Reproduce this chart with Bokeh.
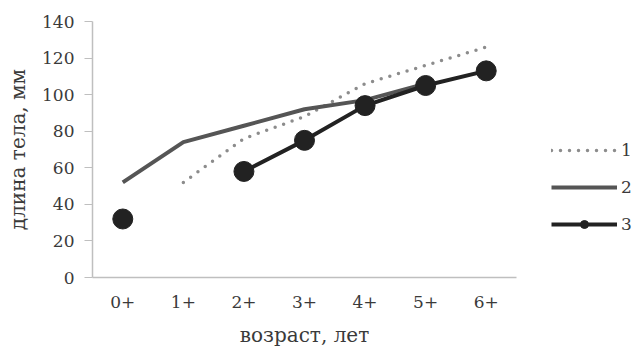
import math
from bokeh.plotting import figure
from bokeh.models import ColumnDataSource, Legend, LegendItem, FactorRange
from bokeh.embed import file_html
from bokeh.resources import INLINE

ages = ["0+", "1+", "2+", "3+", "4+", "5+", "6+"]
nan = float("nan")
series1 = [nan, 52, 76, 88, 106, 116, 126]
series2 = [52, 74, 83, 92, 97, 106, nan]
series3 = [32, nan, 58, 75, 94, 105, 113]
legend_labels = ["1", "2", "3"]

src = ColumnDataSource(dict(x=ages, s1=series1, s2=series2, s3=series3))

p = figure(frame_width=424, frame_height=256, x_range=FactorRange(*ages), y_range=(0, 140),
           output_backend="svg", toolbar_location=None,
           min_border_left=92, min_border_top=21, min_border_bottom=70, min_border_right=111)
p.outline_line_color = None
p.grid.grid_line_color = None
p.background_fill_color = "white"
p.border_fill_color = "white"

font = "DejaVu Serif"
tc = "#3a3a3a"
for ax in (p.xaxis[0], p.yaxis[0]):
    ax.axis_line_color = "#bfbfbf"
    ax.axis_line_width = 1.5
    ax.major_label_text_font = font
    ax.major_label_text_font_size = "17px"
    ax.major_label_text_color = tc
    ax.axis_label_text_font = font
    ax.axis_label_text_font_size = "20px"
    ax.axis_label_text_font_style = "normal"
    ax.axis_label_text_color = tc
    ax.minor_tick_line_color = None

p.yaxis.ticker = [0, 20, 40, 60, 80, 100, 120, 140]
p.yaxis.major_tick_line_color = "#bfbfbf"
p.yaxis.major_tick_out = 8
p.yaxis.major_tick_in = 0
p.yaxis.major_label_standoff = 10
p.yaxis.axis_label = "длина тела, мм"
p.yaxis.axis_label_standoff = 9

p.xaxis.major_tick_line_color = None
p.xaxis.major_label_standoff = 12
p.xaxis.axis_label = "возраст, лет"
p.xaxis.axis_label_standoff = 12

r1 = p.line("x", "s1", source=src, line_color="#8c8c8c", line_width=3.5,
            line_dash="0 9", line_cap="round")
r2 = p.line("x", "s2", source=src, line_color="#555555", line_width=4)
r3 = p.line("x", "s3", source=src, line_color="#222222", line_width=4)
r3m = p.scatter("x", "s3", source=src, size=20, fill_color="#222222", line_color="#222222")

legend = Legend(items=[LegendItem(label=legend_labels[0], renderers=[r1]),
                       LegendItem(label=legend_labels[1], renderers=[r2]),
                       LegendItem(label=legend_labels[2], renderers=[r3, r3m])],
                location=(35, 43), border_line_color=None, background_fill_alpha=0,
                glyph_width=66, glyph_height=20, spacing=17, label_standoff=4,
                label_text_font=font, label_text_font_size="17px", label_text_color=tc,
                margin=0, padding=0)
p.add_layout(legend, "right")

open("out.html", "w").write(file_html(p, INLINE))
